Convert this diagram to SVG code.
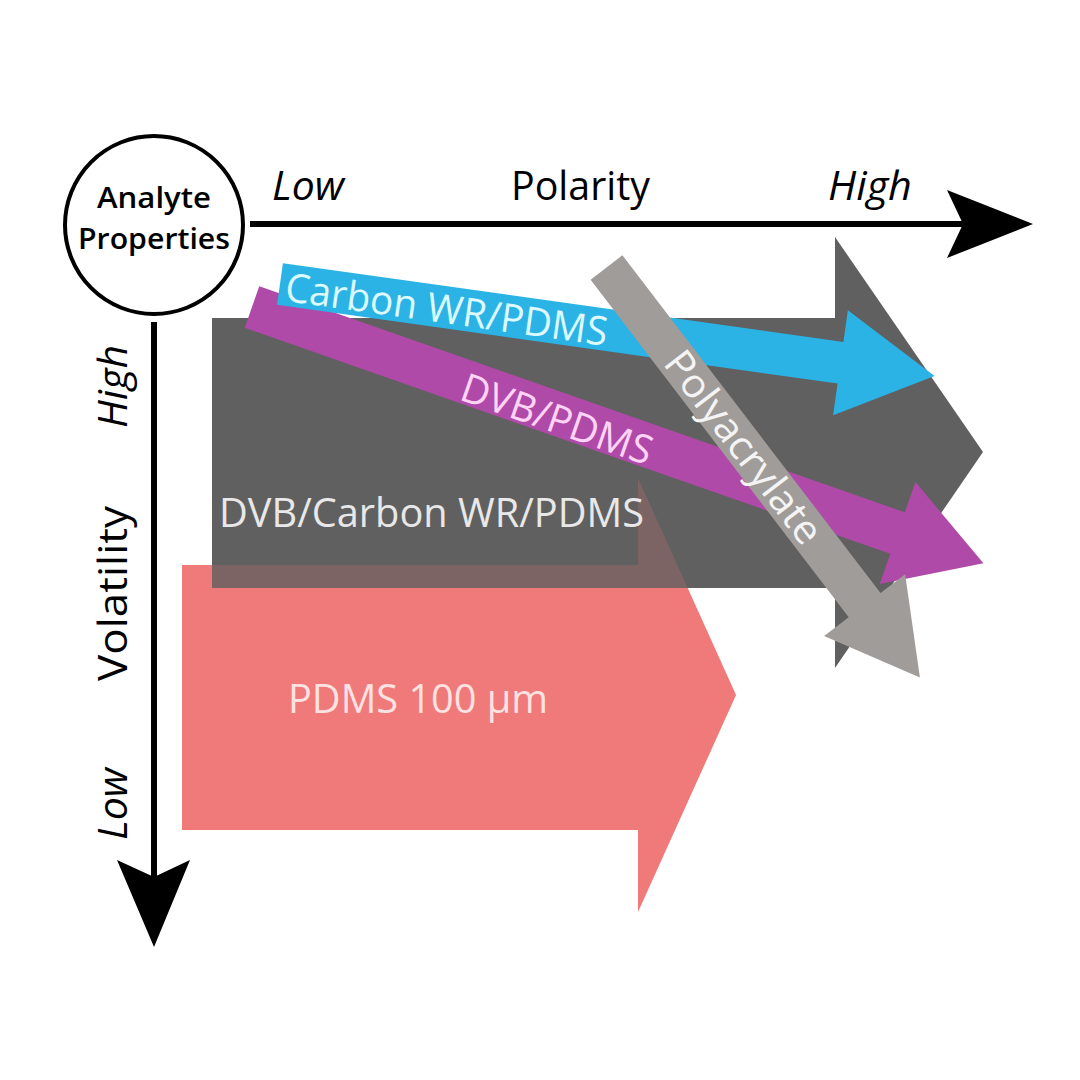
<svg xmlns="http://www.w3.org/2000/svg" width="1080" height="1080" viewBox="0 0 1080 1080">
<style>
.t{font-family:"Open Sans","Liberation Sans",sans-serif;}
.ax{font-size:40px;fill:#000;}
.it{font-style:italic;}
.lbl{font-size:40px;}
.axis{stroke:#000;stroke-width:6;fill:none;}
.head{fill:#000;}
</style>
<rect width="1080" height="1080" fill="#fff"/>

<g id="pdms100">
<polygon points="182,565 638,565 638,478 736,695 638,912 638,830 182,830" fill="#f07a7a"/>
</g>

<g id="dvb-carbon-pdms">
<polygon points="212,318 835,318 835,237 983,452 835,668 835,588 212,588" fill="#606060"/>
<polygon points="182,565 638,565 638,478 736,695 638,912 638,830 182,830" fill="#f07a7a" opacity="0.2"/>
<text class="t lbl" x="219" y="527" fill="#e8e8e8" textLength="425" lengthAdjust="spacingAndGlyphs">DVB/Carbon WR/PDMS</text>
</g>

<g id="pdms100-label">
<text class="t lbl" x="288" y="713" fill="#fde2e2" textLength="260" lengthAdjust="spacingAndGlyphs">PDMS 100 µm</text>
</g>

<g id="dvb-pdms" transform="translate(252,307) rotate(19.3)">
<polygon points="0,-22 684,-22 684,-54 775,0 684,54 684,22 0,22" fill="#b04aa8"/>
<text class="t lbl" x="225" y="19" fill="#ffd4f6" textLength="200" lengthAdjust="spacingAndGlyphs">DVB/PDMS</text>
</g>

<g id="carbon-pdms" transform="translate(280,284) rotate(8)">
<polygon points="0,-21 566,-21 566,-53 661,0 566,53 566,21 0,21" fill="#2bb3e6"/>
<text class="t lbl" x="6" y="16" fill="#dcfaff" textLength="325" lengthAdjust="spacingAndGlyphs">Carbon WR/PDMS</text>
</g>

<g id="polyacrylate" transform="translate(606.5,267.5) rotate(52.6)">
<polygon points="0,-20 425,-20 425,-51 516,0 425,51 425,20 0,20" fill="#a09c9a"/>
<text class="t lbl" x="110" y="14" fill="#f4f4f4" textLength="232" lengthAdjust="spacingAndGlyphs">Polyacrylate</text>
</g>

<g id="connectors">
<line class="axis" x1="250" y1="224" x2="975" y2="224"/>
<polygon class="head" points="947,190 1033,224 947,258 963,224"/>
<line class="axis" x1="154" y1="322" x2="154" y2="890"/>
<polygon class="head" points="117,860 154,947 190,860 154,877"/>
</g>

<g id="analyte-properties">
<circle cx="154" cy="225" r="89" fill="#fff" stroke="#000" stroke-width="4"/>
<text class="t" x="154" y="208" font-size="29" font-weight="600" text-anchor="middle" textLength="114" lengthAdjust="spacingAndGlyphs">Analyte</text>
<text class="t" x="154" y="249" font-size="29" font-weight="600" text-anchor="middle" textLength="152" lengthAdjust="spacingAndGlyphs">Properties</text>
</g>

<g id="axis-labels">
<text class="t ax it" x="272" y="200" textLength="72" lengthAdjust="spacingAndGlyphs">Low</text>
<text class="t ax" x="511" y="200" textLength="139" lengthAdjust="spacingAndGlyphs">Polarity</text>
<text class="t ax it" x="828" y="200" textLength="84" lengthAdjust="spacingAndGlyphs">High</text>
<text class="t ax it" transform="translate(127,428) rotate(-90)" textLength="83" lengthAdjust="spacingAndGlyphs">High</text>
<text class="t ax" transform="translate(127,681) rotate(-90)" textLength="175" lengthAdjust="spacingAndGlyphs">Volatility</text>
<text class="t ax it" transform="translate(127,840) rotate(-90)" textLength="72" lengthAdjust="spacingAndGlyphs">Low</text>
</g>
</svg>
